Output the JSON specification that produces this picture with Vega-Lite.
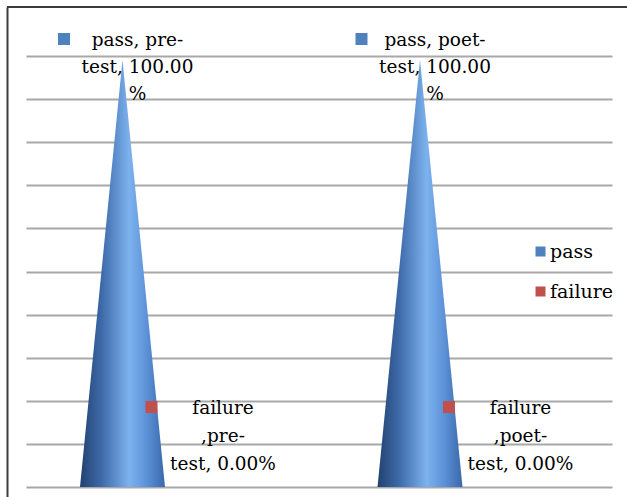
{
  "$schema": "https://vega.github.io/schema/vega-lite/v6.json",
  "width": 620,
  "height": 490,
  "autosize": {"type": "none"},
  "padding": {"left": 7, "top": 7, "right": 0, "bottom": 0},
  "background": "white",
  "config": {
    "view": {"stroke": null},
    "font": "DejaVu Serif",
    "axisY": {"domain": true, "domainColor": "#3c3c3c", "domainWidth": 2, "labels": false, "ticks": false, "title": null,
              "grid": true, "gridColor": "#a8a8a8", "gridWidth": 2}
  },
  "data": {
    "values": [
      {"test": "pre-test", "status": "pass", "value": 100, "label": "pass, pre-\ntest, 100.00\n%"},
      {"test": "poet-test", "status": "pass", "value": 100, "label": "pass, poet-\ntest, 100.00\n%"},
      {"test": "pre-test", "status": "failure", "value": 0, "label": "failure\n,pre-\ntest, 0.00%"},
      {"test": "poet-test", "status": "failure", "value": 0, "label": "failure\n,poet-\ntest, 0.00%"}
    ]
  },
  "layer": [
    {
      "mark": {"type": "rule", "color": "#3c3c3c", "strokeWidth": 2},
      "encoding": {"y": {"datum": 111.37, "type": "quantitative",
                         "axis": {"title": null, "labels": false, "ticks": false, "domain": true, "domainColor": "#3c3c3c", "domainWidth": 2,
                                  "grid": true, "gridColor": "#a8a8a8", "gridWidth": 2,
                                  "values": [0, 10, 20, 30, 40, 50, 60, 70, 80, 90, 100]}}}
    },
    {
      "transform": [{"filter": "datum.status === 'pass'"}],
      "mark": {
        "type": "point",
        "shape": "M0,0.02L0.2125,2.155L-0.2125,2.155Z",
        "size": 160000,
        "filled": true,
        "opacity": 1,
        "strokeWidth": 0,
        "fill": {
          "gradient": "linear", "x1": 0, "y1": 0, "x2": 1, "y2": 0,
          "stops": [
            {"offset": 0, "color": "#22426f"},
            {"offset": 0.25, "color": "#3d69a8"},
            {"offset": 0.58, "color": "#7db2ef"},
            {"offset": 0.78, "color": "#5d92d8"},
            {"offset": 1, "color": "#3a68aa"}
          ]
        }
      },
      "encoding": {
        "x": {"field": "test", "type": "nominal", "sort": ["pre-test", "poet-test"],
              "scale": {"type": "point", "range": [19, 605], "padding": 0.48487, "align": 0.3345}, "axis": null},
        "y": {"field": "value", "type": "quantitative",
              "scale": {"domain": [-2.32, 111.37], "nice": false, "zero": false},
              "axis": {"title": null, "labels": false, "ticks": false, "domain": true, "domainColor": "#3c3c3c", "domainWidth": 2,
                       "grid": true, "gridColor": "#a8a8a8", "gridWidth": 2,
                       "values": [0, 10, 20, 30, 40, 50, 60, 70, 80, 90, 100]}}
      }
    },
    {
      "transform": [{"filter": "datum.status === 'pass'"}],
      "mark": {"type": "point", "shape": "square", "size": 144, "filled": true, "opacity": 1, "strokeWidth": 0, "xOffset": -58.5, "yOffset": -17},
      "encoding": {
        "x": {"field": "test", "type": "nominal", "sort": ["pre-test", "poet-test"]},
        "y": {"field": "value", "type": "quantitative"},
        "color": {"field": "status", "type": "nominal",
                  "scale": {"domain": ["pass", "failure"], "range": ["#4f81bd", "#c0504d"]},
                  "legend": {"orient": "none", "legendX": 524, "legendY": 235, "title": null, "symbolType": "square", "symbolSize": 100,
                             "labelFontSize": 19, "labelFont": "DejaVu Serif", "labelColor": "black", "labelOffset": 0,
                             "rowPadding": 20, "padding": 0, "symbolStrokeWidth": 0, "symbolOpacity": 1}}
      }
    },
    {
      "transform": [{"filter": "datum.status === 'failure'"}],
      "mark": {"type": "point", "shape": "square", "size": 144, "filled": true, "opacity": 1, "strokeWidth": 0, "xOffset": 29, "yOffset": -80},
      "encoding": {
        "x": {"field": "test", "type": "nominal", "sort": ["pre-test", "poet-test"]},
        "y": {"field": "value", "type": "quantitative"},
        "color": {"field": "status", "type": "nominal"}
      }
    },
    {
      "transform": [{"filter": "datum.status === 'pass'"}],
      "mark": {"type": "text", "align": "center", "baseline": "middle", "dx": 15, "dy": -16, "lineBreak": "\n", "lineHeight": 27,
               "fontSize": 18.5, "font": "DejaVu Serif", "color": "black"},
      "encoding": {
        "x": {"field": "test", "type": "nominal", "sort": ["pre-test", "poet-test"]},
        "y": {"field": "value", "type": "quantitative"},
        "text": {"field": "label"}
      }
    },
    {
      "transform": [{"filter": "datum.status === 'failure'"}],
      "mark": {"type": "text", "align": "center", "baseline": "middle", "dx": 100.5, "dy": -79, "lineBreak": "\n", "lineHeight": 28,
               "fontSize": 18.5, "font": "DejaVu Serif", "color": "black"},
      "encoding": {
        "x": {"field": "test", "type": "nominal", "sort": ["pre-test", "poet-test"]},
        "y": {"field": "value", "type": "quantitative"},
        "text": {"field": "label"}
      }
    }
  ]
}
